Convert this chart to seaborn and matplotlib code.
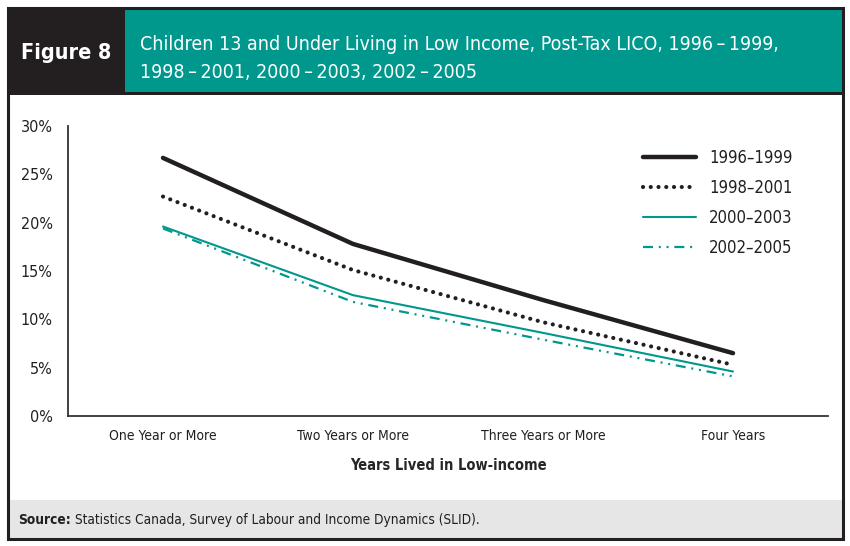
import matplotlib
matplotlib.use("Agg")
import matplotlib.pyplot as plt
from matplotlib.patches import Rectangle
from matplotlib import font_manager
import seaborn as sns
import pandas as pd

categories = ["One Year or More", "Two Years or More", "Three Years or More", "Four Years"]
series_names = ["1996\u20131999", "1998\u20132001", "2000\u20132003", "2002\u20132005"]
v_1996_1999 = [26.7, 17.8, 12.0, 6.5]
v_1998_2001 = [22.7, 15.1, 9.7, 5.3]
v_2000_2003 = [19.6, 12.5, 8.6, 4.6]
v_2002_2005 = [19.4, 11.8, 7.9, 4.1]
y_ticks = [0, 5, 10, 15, 20, 25, 30]
y_tick_labels = ["0%", "5%", "10%", "15%", "20%", "25%", "30%"]
title_text = "Children 13 and Under Living in Low Income, Post-Tax LICO, 1996\u2009\u2013\u20091999,\n1998\u2009\u2013\u20092001, 2000\u2009\u2013\u20092003, 2002\u2009\u2013\u20092005"
x_label = "Years Lived in Low-income"

W, H = 850, 546
DARK = "#231f20"
TEAL = "#00978c"

sns.set_theme(style="white")
names = {f.name for f in font_manager.fontManager.ttflist}
cond = [n for n in ["Liberation Sans Narrow", "DejaVu Sans Condensed"] if n in names]
plt.rcParams["font.family"] = cond + ["DejaVu Sans"]
plt.rcParams["font.stretch"] = "condensed"
plt.rcParams["text.color"] = DARK

fig = plt.figure(figsize=(W / 100, H / 100), dpi=100)
fig.patch.set_facecolor("white")

def fx(x):
    return x / W

def fy(y):
    return 1 - y / H

def rect(x0, y0, x1, y1, **kw):
    fig.patches.append(Rectangle((fx(x0), fy(y1)), fx(x1) - fx(x0), fy(y0) - fy(y1),
                                 transform=fig.transFigure, figure=fig, **kw))

# header & footer
rect(8, 8, 125, 93, facecolor=DARK, edgecolor="none")
rect(125, 8, 842, 93, facecolor=TEAL, edgecolor="none")
rect(8, 500, 842, 538, facecolor="#e6e6e6", edgecolor="none")
rect(8, 92, 842, 95, facecolor=DARK, edgecolor="none")
rect(7.5, 7.5, 842.5, 538.5, facecolor="none", edgecolor=DARK, linewidth=2.2)

fig.text(fx(66), fy(53), "Figure 8", color="white", fontsize=15.5, fontweight="bold",
         ha="center", va="center")
title = fig.text(fx(140), fy(58), title_text, color="white", fontsize=14, ha="left",
                 va="center", linespacing=1.6)
src_b = fig.text(fx(18), fy(520), "Source:", fontsize=9.8, fontweight="bold", ha="left", va="center")

ax = fig.add_axes([fx(68), fy(416), fx(828) - fx(68), fy(126) - fy(416)])

styles = [
    dict(color=DARK, lw=3.2, linestyle="-", solid_capstyle="round"),
    dict(color=DARK, lw=3.0, linestyle=(0, (0.01, 1.85)), dash_capstyle="round"),
    dict(color=TEAL, lw=1.5, linestyle="-"),
    dict(color=TEAL, lw=1.6, linestyle=(0, (4.5, 2.6, 0.9, 2.6, 0.9, 2.6))),
]
all_values = [v_1996_1999, v_1998_2001, v_2000_2003, v_2002_2005]
x_pos = list(range(len(categories)))
for name, vals, st in zip(series_names, all_values, styles):
    df = pd.DataFrame({"x": x_pos, "y": vals})
    sns.lineplot(data=df, x="x", y="y", ax=ax, label=name, **st)

ax.set_xlim(-0.5, len(categories) - 0.5)
ax.set_ylim(0, 30)
ax.set_xticks(x_pos)
ax.set_xticklabels(categories, fontsize=10)
ax.set_xticks([i - 0.5 for i in range(len(categories) + 1)], minor=True)
ax.tick_params(axis="x", which="major", length=0, pad=9, colors=DARK)
ax.tick_params(axis="x", which="minor", length=7, width=1.2, direction="out", color="#333333")
ax.set_yticks(y_ticks)
ax.set_yticklabels(y_tick_labels, fontsize=11.5)
ax.tick_params(axis="y", length=6, width=1.2, direction="out", pad=5, colors=DARK)
ax.tick_params(axis="y", color="#333333")
ax.set_xlabel(x_label, fontsize=10.5, fontweight="bold", labelpad=11)
ax.set_ylabel("")
for s in ["top", "right"]:
    ax.spines[s].set_visible(False)
for s in ["left", "bottom"]:
    ax.spines[s].set_color("#333333")
    ax.spines[s].set_linewidth(1.3)
ax.set_facecolor("white")

leg = ax.legend(loc="upper left", bbox_to_anchor=((636 - 68) / 760, 1 - (142 - 126) / 290),
                frameon=False, fontsize=12, handlelength=3.2, handletextpad=0.8,
                labelspacing=0.72, borderaxespad=0)

# place source body right after the bold label
fig.canvas.draw()
bb = src_b.get_window_extent()
fig.text(bb.x1 / W + fx(4), fy(520), "Statistics Canada, Survey of Labour and Income Dynamics (SLID).",
         fontsize=9.8, ha="left", va="center")

# shrink title if too wide
tb = title.get_window_extent()
max_w = 830 - 140
if tb.width > max_w:
    title.set_fontsize(14 * max_w / tb.width)

fig.savefig("out.png", dpi=100, facecolor="white")
